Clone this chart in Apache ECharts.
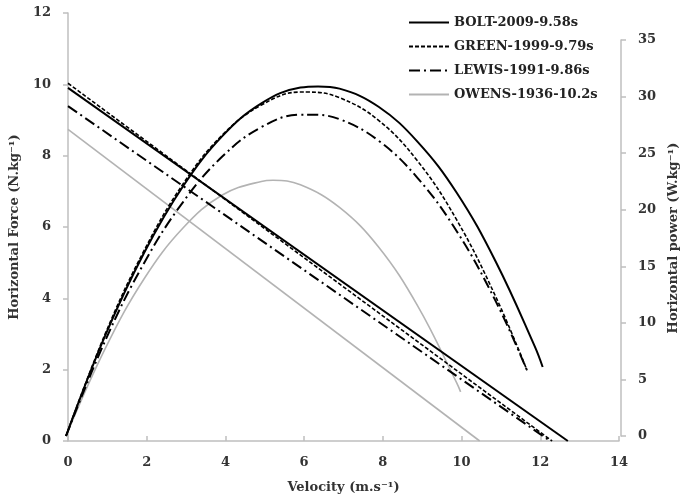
<!DOCTYPE html>
<html>
<head>
<meta charset="utf-8">
<script src="https://cdn.jsdelivr.net/npm/echarts@6/dist/echarts.min.js"></script>
<style>
  html, body { margin: 0; padding: 0; background: #fff; }
  #chart { width: 688px; height: 500px; }
</style>
</head>
<body>
<div id="chart"></div>
<script>
// 运动员名称
const athletes = ['BOLT-2009-9.58s', 'GREEN-1999-9.79s', 'LEWIS-1991-9.86s', 'OWENS-1936-10.2s'];

// 力-速度直线: 起点 (0, F0) 终点 (V0, 0)
const forceVel = [
    [0, 12.7],
    [0, 12.3],
    [0, 12.25],
    [0, 10.46]
];
const forceVal = [
    [9.9, 0],
    [10.03, 0],
    [9.39, 0],
    [8.74, 0]
];

// 功率-速度曲线
const boltPowerVel = [0, 1, 2, 3, 4, 5, 6, 6.45, 7, 8, 9, 10, 11, 12, 12.2];
const boltPower = [0, 8.85, 16.2, 22.1, 26.5, 29.4, 30.8, 30.9, 30.7, 29.1, 26.0, 21.5, 15.4, 7.9, 6.1];
const greenPowerVel = [0, 1, 2, 3, 4, 5, 6, 6.2, 7, 8, 9, 10, 11, 11.8];
const greenPower = [0, 9.0, 16.4, 22.3, 26.6, 29.25, 30.4, 30.4, 29.9, 27.9, 24.3, 19.1, 12.3, 5.8];
const lewisPowerVel = [0, 1, 2, 3, 4, 5, 6, 6.25, 7, 8, 9, 10, 11, 11.8];
const lewisPower = [0, 8.4, 15.3, 20.7, 24.7, 27.3, 28.4, 28.4, 28.0, 26.1, 22.8, 18.1, 11.9, 5.8];
const owensPowerVel = [0, 1, 2, 3, 4, 5, 5.3, 6, 7, 8, 9, 10, 10.1];
const owensPower = [0, 7.7, 13.9, 18.4, 21.3, 22.5, 22.6, 22.2, 20.2, 16.7, 11.5, 4.7, 3.9];

const powerVel = [boltPowerVel, greenPowerVel, lewisPowerVel, owensPowerVel];
const powerVal = [boltPower, greenPower, lewisPower, owensPower];

const leftTicks = [0, 2, 4, 6, 8, 10, 12];
const rightTicks = [0, 5, 10, 15, 20, 25, 30, 35];
const velTicks = [0, 2, 4, 6, 8, 10, 12, 14];

const FONT = 'DejaVu Serif';
const axisGrey = '#bfbfbf';

// 线型
const lineStyles = [
    {color: '#000', width: 2, type: 'solid'},
    {color: '#000', width: 1.6, type: [4, 2]},
    {color: '#000', width: 2, type: [11, 4, 2, 4]},
    {color: '#b3b3b3', width: 1.6, type: 'solid'}
];

function pairs(xs, ys) {
    return xs.map((x, i) => [x, ys[i]]);
}

const series = [];
athletes.forEach((name, i) => {
    series.push({
        name: name,
        type: 'line',
        xAxisIndex: 0,
        yAxisIndex: 0,
        symbol: 'none',
        color: lineStyles[i].color,
        lineStyle: lineStyles[i],
        data: pairs(forceVel[i], forceVal[i]),
        z: 4 - i
    });
});
athletes.forEach((name, i) => {
    series.push({
        name: name,
        type: 'line',
        xAxisIndex: 1,
        yAxisIndex: 1,
        symbol: 'none',
        smooth: 0.4,
        color: lineStyles[i].color,
        lineStyle: lineStyles[i],
        data: pairs(powerVel[i], powerVal[i]),
        z: 4 - i
    });
});

const option = {
    animation: false,
    backgroundColor: '#fff',
    textStyle: {fontFamily: FONT},
    legend: {
        data: athletes,
        orient: 'vertical',
        left: 403,
        top: 11,
        itemWidth: 40,
        itemHeight: 14,
        itemGap: 11,
        itemStyle: {opacity: 0},
        textStyle: {fontFamily: FONT, fontWeight: 'bold', fontSize: 13, color: '#222'}
    },
    grid: [
        {left: 66, right: 69, top: 13, bottom: 59},
        {left: 66, right: 69, top: 40, bottom: 64}
    ],
    xAxis: [
        {
            type: 'value',
            gridIndex: 0,
            min: 0,
            max: 14,
            interval: 2,
            name: 'Velocity (m.s⁻¹)',
            nameLocation: 'middle',
            nameGap: 40,
            nameTextStyle: {fontFamily: FONT, fontWeight: 'bold', fontSize: 13, color: '#333'},
            axisLine: {lineStyle: {color: axisGrey, width: 1.5}},
            axisTick: {inside: true, length: 5, lineStyle: {color: axisGrey, width: 1.5}},
            axisLabel: {
                fontFamily: FONT, fontWeight: 'bold', fontSize: 13, color: '#333', margin: 15,
                formatter: v => velTicks.includes(v) ? String(v) : ''
            },
            splitLine: {show: false}
        },
        {
            type: 'value',
            gridIndex: 1,
            min: 0,
            max: 14,
            show: false
        }
    ],
    yAxis: [
        {
            type: 'value',
            gridIndex: 0,
            min: 0,
            max: 12,
            interval: 2,
            name: 'Horizontal Force (N.kg⁻¹)',
            nameLocation: 'middle',
            nameGap: 47,
            nameTextStyle: {fontFamily: FONT, fontWeight: 'bold', fontSize: 13, color: '#333'},
            axisLine: {show: true, onZero: false, lineStyle: {color: axisGrey, width: 1.5}},
            axisTick: {show: true, length: 5, lineStyle: {color: axisGrey, width: 1.5}},
            axisLabel: {
                fontFamily: FONT, fontWeight: 'bold', fontSize: 13, color: '#333', margin: 17,
                formatter: v => leftTicks.includes(v) ? String(v) : ''
            },
            splitLine: {show: false}
        },
        {
            type: 'value',
            gridIndex: 1,
            position: 'right',
            offset: 8,
            min: 0,
            max: 35,
            interval: 5,
            name: 'Horizontal power (W.kg⁻¹)',
            nameLocation: 'middle',
            nameGap: 46,
            nameRotate: 90,
            nameTextStyle: {fontFamily: FONT, fontWeight: 'bold', fontSize: 13, color: '#333'},
            axisLine: {show: true, onZero: false, lineStyle: {color: axisGrey, width: 1.5}},
            axisTick: {show: true, length: 5, lineStyle: {color: axisGrey, width: 1.5}},
            axisLabel: {
                fontFamily: FONT, fontWeight: 'bold', fontSize: 13, color: '#333', margin: 17,
                formatter: v => rightTicks.includes(v) ? String(v) : ''
            },
            splitLine: {show: false}
        }
    ],
    series: series
};

const chart = echarts.init(document.getElementById('chart'));
chart.setOption(option);
window.addEventListener('resize', function() {
    chart.resize();
});
</script>
</body>
</html>
